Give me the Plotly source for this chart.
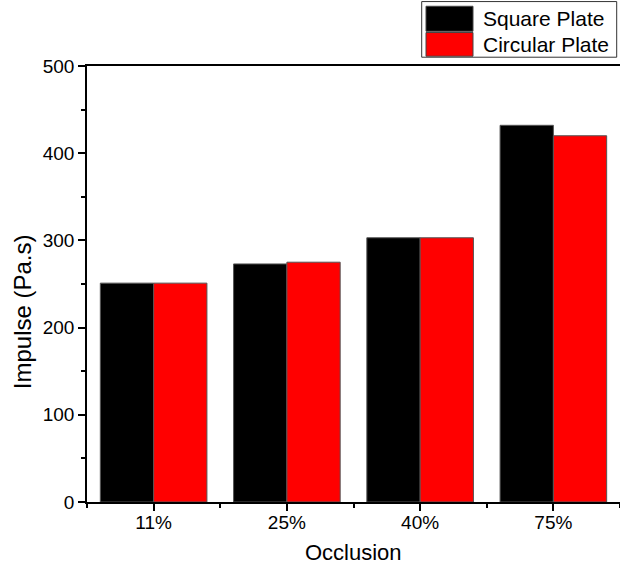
import plotly.graph_objects as go

# Impulse by occlusion ratio for two plate shapes
occlusion = ["11%", "25%", "40%", "75%"]
square_plate = [251, 273, 303, 432]
circular_plate = [251, 275, 303, 420]
series_names = ["Square Plate", "Circular Plate"]
series_colors = ["#000000", "#ff0000"]

W, H = 620, 569
L, R, T, B = 87, 0, 65.5, 67  # plot margins in px

FONT = "Liberation Sans, Arial, sans-serif"

xpos = list(range(len(occlusion)))

fig = go.Figure()
for name, vals, col in zip(series_names, [square_plate, circular_plate], series_colors):
    fig.add_trace(go.Bar(
        x=xpos, y=vals, name=name,
        marker=dict(color=col, line=dict(color="#555555", width=1)),
        showlegend=False,
    ))

plot_w = W - L - R
plot_h = H - T - B


def px(x):
    return (x - L) / plot_w


def py(y):
    return (H - B - y) / plot_h


shapes = []
annotations = []

# legend box with large colour swatches
shapes.append(dict(type="rect", xref="paper", yref="paper",
                   x0=px(421.7), x1=px(616.7), y0=py(56.7), y1=py(1),
                   line=dict(color="#333333", width=1), fillcolor="white"))
swatch_rows = [(5.7, 30.7), (32, 55.7)]
for (top, bot), name, col in zip(swatch_rows, series_names, series_colors):
    shapes.append(dict(type="rect", xref="paper", yref="paper",
                       x0=px(426), x1=px(473), y0=py(bot), y1=py(top),
                       line=dict(color="#444444", width=1), fillcolor=col))
    annotations.append(dict(xref="paper", yref="paper", x=px(481), y=py((top + bot) / 2),
                            text=name, showarrow=False, xanchor="left", yanchor="middle",
                            font=dict(family=FONT, size=21, color="black")))

# axis titles
annotations.append(dict(xref="paper", yref="paper", x=px(353), y=py(553),
                        text="Occlusion", showarrow=False, xanchor="center", yanchor="middle",
                        font=dict(family=FONT, size=22, color="black")))
annotations.append(dict(xref="paper", yref="paper", x=px(22), y=py(312),
                        text="Impulse (Pa.s)", showarrow=False, textangle=-90,
                        xanchor="center", yanchor="middle",
                        font=dict(family=FONT, size=24, color="black")))

TICKFONT = dict(family=FONT, size=19, color="black")

fig.update_layout(
    width=W, height=H,
    margin=dict(l=L, r=R, t=T, b=B, pad=0),
    paper_bgcolor="white", plot_bgcolor="white",
    barmode="group", bargap=0.2, bargroupgap=0,
    font=dict(family=FONT, size=19, color="black"),
    shapes=shapes, annotations=annotations,
    xaxis=dict(
        range=[-0.5, 3.5], tickmode="array", tickvals=xpos, ticktext=occlusion,
        showline=True, linecolor="black", linewidth=1.5, mirror=True,
        ticks="outside", ticklen=7, tickwidth=1.5, tickcolor="black",
        minor=dict(tickmode="linear", tick0=0.5, dtick=1, ticks="outside",
                   ticklen=4, tickwidth=1.5, tickcolor="black", showgrid=False),
        showgrid=False, zeroline=False,
        tickfont=TICKFONT, ticklabelstandoff=-5,
    ),
    yaxis=dict(
        range=[0, 500], tickmode="linear", tick0=0, dtick=100,
        showline=True, linecolor="black", linewidth=1.5,
        ticks="outside", ticklen=7, tickwidth=1.5, tickcolor="black",
        minor=dict(tickmode="linear", tick0=50, dtick=100, ticks="outside",
                   ticklen=4, tickwidth=1.5, tickcolor="black", showgrid=False),
        showgrid=False, zeroline=False,
        tickfont=TICKFONT,
    ),
)

fig.write_html("out.html")
